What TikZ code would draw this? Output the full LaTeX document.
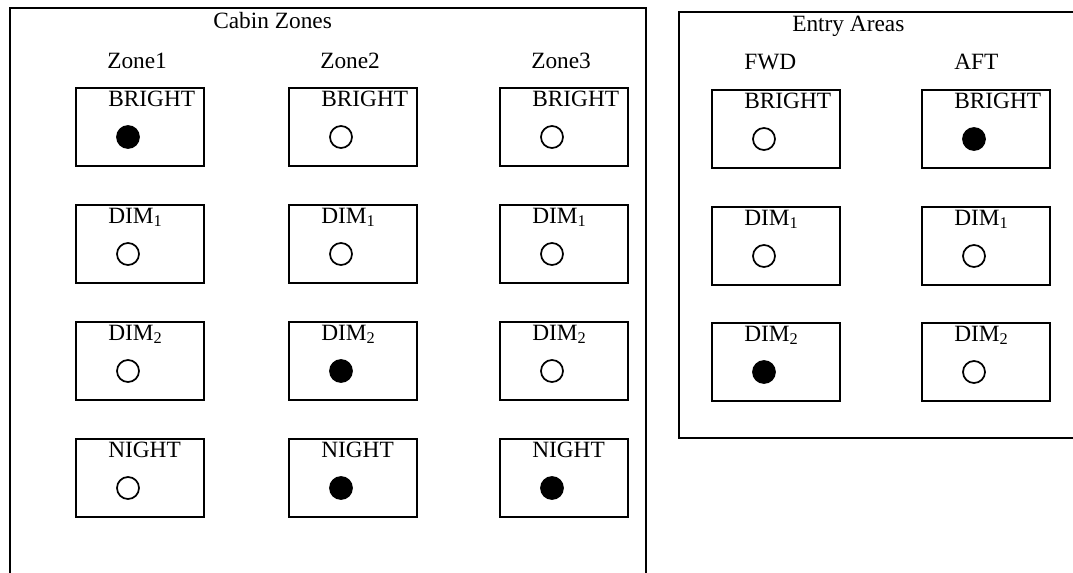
\documentclass[tikz,border=0pt]{standalone}
\usepackage{fontspec}
\setmainfont{Liberation Serif}

\begin{document}
\begin{tikzpicture}[
  x=0.75pt, y=-0.75pt,
  panel/.style={draw, line width=1.2pt},
  lampbox/.style={rectangle, draw, line width=1.3pt, minimum width=96pt,
                  minimum height=58.5pt, inner sep=0pt, anchor=north west},
  modetext/.style={font=\fontsize{17.5}{20}\selectfont, anchor=base west, inner sep=0pt},
  heading/.style={modetext},
  lamp/.style={circle, draw, line width=1.3pt, minimum size=16.5pt, inner sep=0pt},
]
\useasboundingbox (0,0) rectangle (1073,572);

% panels
\draw[panel] (10,8) rectangle (646,600);
\draw[panel] (679,12) rectangle (1100,438);

\node[heading] (cabin) at (213,28) {Cabin Zones};
\node[heading] (entry) at (792,31) {Entry Areas};

% cabin zones
\foreach \x/\zn/\sa/\sb/\sc/\sd in {75/1/black/white/white/white,
                                    288/2/white/white/black/black,
                                    499/3/white/white/white/black} {
  \node[heading] (zone\zn) at (\x+32,68) {Zone\zn};
  \foreach \y/\m/\c [count=\r] in {87/BRIGHT/\sa, 204/DIM\textsubscript{1}/\sb,
                                   321/DIM\textsubscript{2}/\sc, 438/NIGHT/\sd} {
    \node[lampbox] (cab-\zn-\r) at (\x,\y) {};
    \node[modetext] (cabtxt-\zn-\r) at ([shift={(33,19)}]cab-\zn-\r.north west) {\m};
    \node[lamp, fill=\c] (cablamp-\zn-\r) at ([shift={(53,50)}]cab-\zn-\r.north west) {};
  }
}

% entry areas
\foreach \x/\ea/\sa/\sb/\sc in {711/FWD/white/white/black,
                                921/AFT/black/white/white} {
  \node[heading] (area-\ea) at (\x+33,69) {\ea};
  \foreach \y/\m/\c [count=\r] in {89/BRIGHT/\sa, 206/DIM\textsubscript{1}/\sb,
                                   322/DIM\textsubscript{2}/\sc} {
    \node[lampbox] (ent-\ea-\r) at (\x,\y) {};
    \node[modetext] (enttxt-\ea-\r) at ([shift={(33,19)}]ent-\ea-\r.north west) {\m};
    \node[lamp, fill=\c] (entlamp-\ea-\r) at ([shift={(53,50)}]ent-\ea-\r.north west) {};
  }
}

\end{tikzpicture}
\end{document}
